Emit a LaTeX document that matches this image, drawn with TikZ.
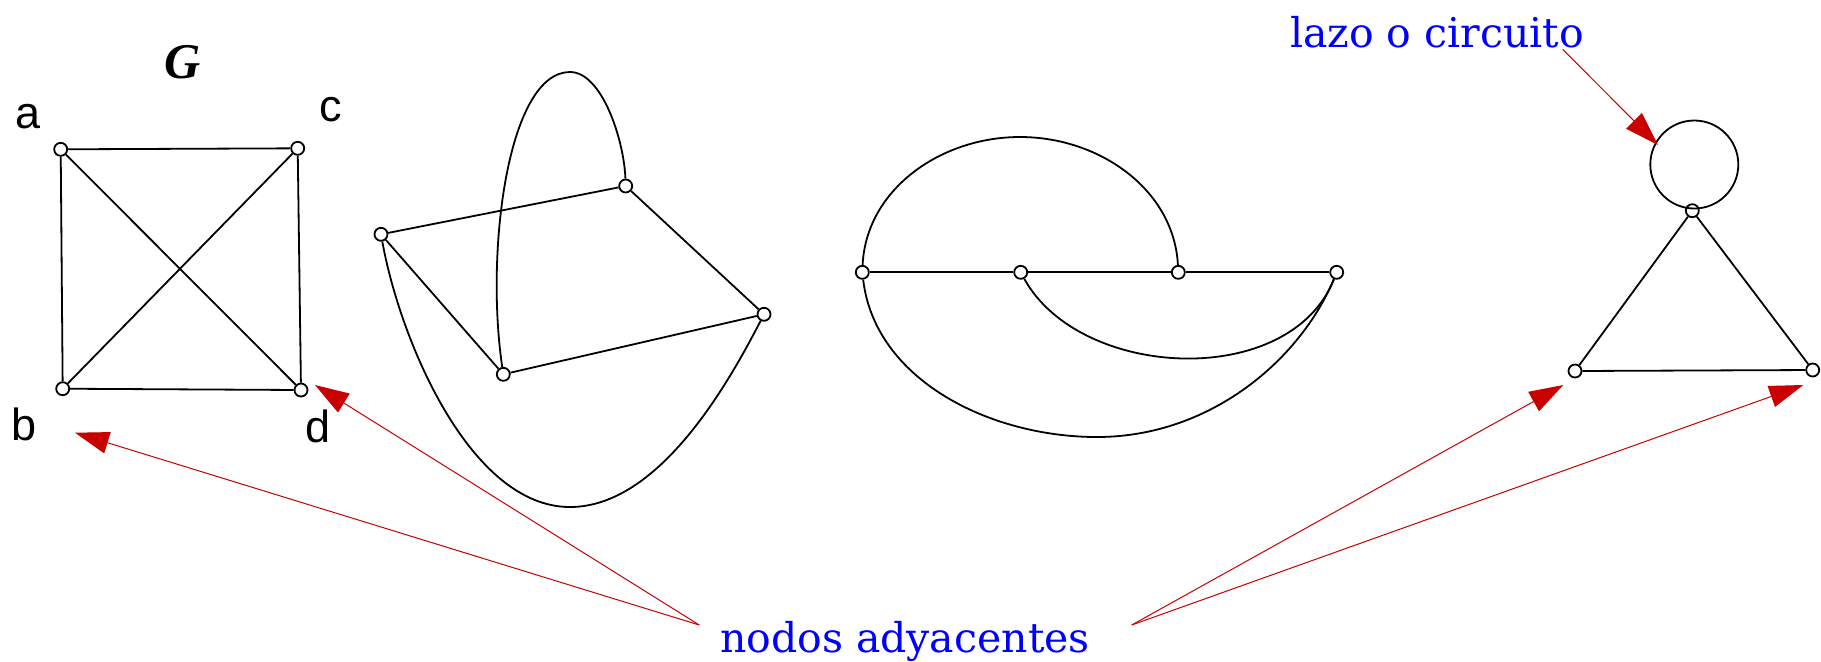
\documentclass[tikz,border=0pt]{standalone}
\usepackage{fontspec}
\newfontfamily\lsans{Liberation Sans}
\newfontfamily\lserif{Liberation Serif}
\newfontfamily\dvserif{DejaVu Serif}
\usetikzlibrary{arrows.meta}
\definecolor{arrred}{RGB}{200,0,0}
\definecolor{txtblue}{RGB}{0,0,255}
\begin{document}
\begin{tikzpicture}[x=0.5pt,y=-0.5pt,
  vtx/.style={circle,draw,line width=0.9pt,minimum size=6.5pt,inner sep=0pt},
  edge/.style={line width=0.9pt},
  lbl/.style={anchor=base,font=\lsans\fontsize{22.5}{27}\selectfont,inner sep=0pt},
  note/.style={anchor=base,text=txtblue,font=\dvserif\fontsize{20.5}{25}\selectfont,inner sep=0pt},
  pointer/.style={draw=arrred,line width=0.5pt,-{Triangle[length=17pt,width=11pt]}}
]
\useasboundingbox (0,0) rectangle (1821,661);

% ---- Graph G (K4) ----
\node[vtx] (a) at (60.7,149.3) {};
\node[vtx] (c) at (297.7,148.3) {};
\node[vtx] (b) at (62.7,388.7) {};
\node[vtx] (d) at (301,390) {};
\draw[edge] (a) -- (c) -- (d) -- (b) -- (a);
\draw[edge] (a) -- (d);
\draw[edge] (b) -- (c);
\node[lbl] (la) at (28.3,128.3) {a};
\node[lbl] (lc) at (330.7,121.7) {c};
\node[lbl] (lb) at (23.8,440.7) {b};
\node[lbl] (ld) at (317.7,442.7) {d};
\node[anchor=base,inner sep=0pt,font=\lserif\fontsize{25}{30}\selectfont\bfseries\itshape] (G) at (182.5,78.3) {G};

% ---- Graph 2 ----
\node[vtx] (L) at (381,234.3) {};
\node[vtx] (T) at (625.7,186) {};
\node[vtx] (R) at (764,314.3) {};
\node[vtx] (B) at (503.3,374.3) {};
\draw[edge] (L) -- (T) -- (R) -- (B) -- (L);
\draw[edge] (B) .. controls (485,250) and (508,72) .. (570,72)
               .. controls (602,72) and (624,140) .. (T);
\draw[edge] (L) .. controls (400,340) and (470,507) .. (570,507)
               .. controls (660,507) and (730,380) .. (R);

% ---- Graph 3 ----
\node[vtx] (n1) at (862.3,272.3) {};
\node[vtx] (n2) at (1020.7,272.3) {};
\node[vtx] (n3) at (1178.3,272.3) {};
\node[vtx] (n4) at (1336.7,272.3) {};
\draw[edge] (n1) -- (n2) -- (n3) -- (n4);
\draw[edge] (n1) .. controls (866,190) and (940,137) .. (1020,137)
                .. controls (1100,137) and (1174,190) .. (n3);
\draw[edge] (n2) .. controls (1080,380) and (1290,390) .. (n4);
\draw[edge] (n1) .. controls (875,380) and (990,437) .. (1097,437)
                .. controls (1210,437) and (1300,360) .. (n4);

% ---- Graph 4 ----
\node[vtx] (P) at (1692.3,210.7) {};
\node[vtx] (BL) at (1575,371) {};
\node[vtx] (BR) at (1812.7,370) {};
\coordinate (loopc) at (1694.3,164.5);
\draw[edge] (loopc) circle[radius=22pt];
\draw[edge] (P) -- (BL) -- (BR) -- (P);

% ---- Notes ----
\node[note] (lazo) at (1437,47.7) {lazo o circuito};
\node[note] (ady) at (905,652.7) {nodos adyacentes};

\coordinate (s0) at (1562.7,49.3);
\coordinate (t0) at (1658,145);
\draw[pointer] (s0) -- (t0);

\coordinate (s1) at (699.3,625);
\coordinate (s2) at (1131.7,625);
\coordinate (tb) at (75,432.7);
\coordinate (td) at (315,385);
\coordinate (tbl) at (1563.3,385);
\coordinate (tbr) at (1803.3,385);
\draw[pointer] (s1) -- (tb);
\draw[pointer] (s1) -- (td);
\draw[pointer] (s2) -- (tbl);
\draw[pointer] (s2) -- (tbr);
\end{tikzpicture}
\end{document}
